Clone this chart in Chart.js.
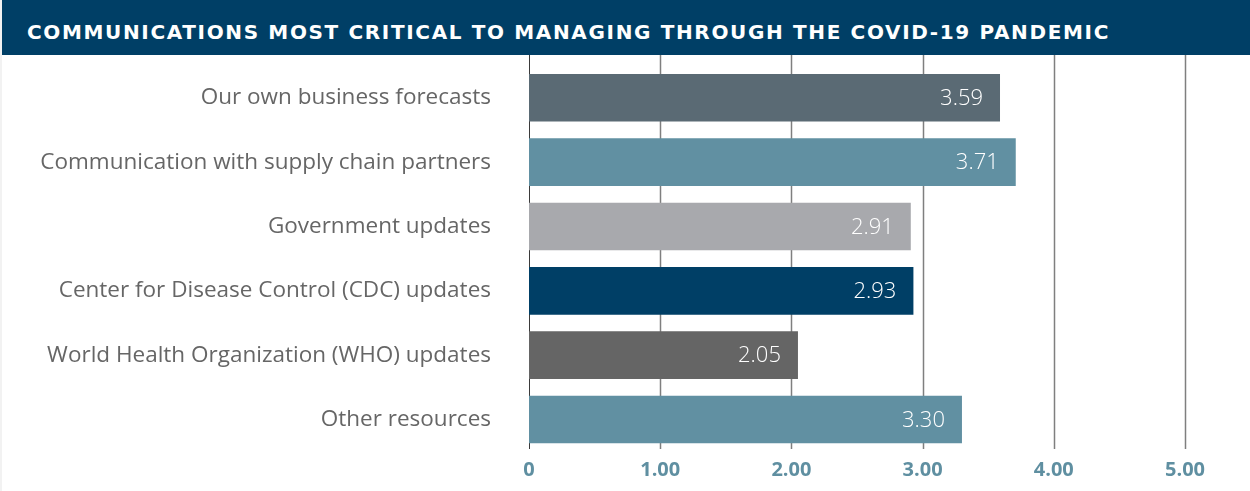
<!DOCTYPE html>
<html>
<head>
<meta charset="utf-8">
<script src="https://cdn.jsdelivr.net/npm/chart.js@4/dist/chart.umd.min.js"></script>
<style>
  html, body { margin: 0; padding: 0; background: #fff; }
  #wrap { position: relative; width: 1250px; height: 491px; overflow: hidden; }
  #edge { position: absolute; left: 0; top: 0; width: 2px; height: 491px; background: #f2f2f2; }
  #banner { position: absolute; left: 2px; top: 0; width: 1248px; height: 55px; background: #003f66; }
  #title { position: absolute; left: 27px; top: 18px; color: #fff; font-family: "DejaVu Sans", sans-serif; font-weight: 700; font-size: 20px; white-space: nowrap; line-height: 28px; }
  canvas { position: absolute; left: 0; top: 0; }
</style>
</head>
<body>
<div id="wrap">
  <canvas id="c" width="1250" height="491"></canvas>
  <div id="edge"></div>
  <div id="banner"></div>
  <div id="title">COMMUNICATIONS MOST CRITICAL TO MANAGING THROUGH THE COVID-19 PANDEMIC</div>
</div>
<script>
const categories = [
  "Our own business forecasts",
  "Communication with supply chain partners",
  "Government updates",
  "Center for Disease Control (CDC) updates",
  "World Health Organization (WHO) updates",
  "Other resources"
];
const values = [3.59, 3.71, 2.91, 2.93, 2.05, 3.30];
const barColors = ["#5a6a74", "#6190a2", "#a8a9ad", "#003f66", "#656565", "#6190a2"];
const tickValues = [0, 1, 2, 3, 4, 5];
const tickLabels = ["0", "1.00", "2.00", "3.00", "4.00", "5.00"];

// fit title width
(function(){
  const t = document.getElementById('title');
  const target = 1083;
  const w = t.getBoundingClientRect().width;
  const n = t.textContent.length;
  t.style.letterSpacing = ((target - w) / n) + 'px';
})();

const gridPlugin = {
  id: 'gridLines',
  beforeDatasetsDraw(chart) {
    const ctx = chart.ctx;
    const xs = chart.scales.x;
    ctx.save();
    tickValues.forEach(v => {
      const x = Math.round(xs.getPixelForValue(v)) + 0.5;
      ctx.beginPath();
      ctx.strokeStyle = v === 0 ? '#3a3a3a' : '#7f7f7f';
      ctx.lineWidth = v === 0 ? 1 : 1.5;
      ctx.moveTo(x, 55);
      ctx.lineTo(x, 449);
      ctx.stroke();
    });
    ctx.restore();
  }
};

const valuePlugin = {
  id: 'valueLabels',
  afterDatasetsDraw(chart) {
    const ctx = chart.ctx;
    const meta = chart.getDatasetMeta(0);
    ctx.save();
    ctx.fillStyle = '#ffffff';
    ctx.font = '300 22px "Open Sans", sans-serif';
    ctx.textAlign = 'right';
    ctx.textBaseline = 'middle';
    meta.data.forEach((el, i) => {
      ctx.fillText(values[i].toFixed(2), el.x - 17, el.y + 1);
    });
    ctx.restore();
  }
};

new Chart(document.getElementById('c'), {
  type: 'bar',
  data: {
    labels: categories,
    datasets: [{
      data: values,
      backgroundColor: barColors,
      borderWidth: 0,
      barPercentage: 0.74,
      categoryPercentage: 1.0
    }]
  },
  options: {
    indexAxis: 'y',
    responsive: false,
    animation: false,
    devicePixelRatio: 1,
    layout: { padding: { top: 65.6, right: 65, left: 0, bottom: 0 } },
    plugins: { legend: { display: false }, tooltip: { enabled: false }, title: { display: false } },
    scales: {
      x: {
        type: 'linear',
        min: 0,
        max: 5,
        afterFit(s) { s.height = 39.3; s.paddingLeft = 0; s.paddingRight = 0; },
        afterBuildTicks(s) { s.ticks = tickValues.map(v => ({ value: v })); },
        grid: { display: false, drawTicks: false },
        border: { display: false },
        ticks: {
          padding: 7,
          color: '#5f8fa1',
          font: { family: '"Open Sans", sans-serif', weight: '700', size: 20 },
          callback: (v) => tickLabels[tickValues.indexOf(v)]
        }
      },
      y: {
        afterFit(s) { s.width = 529; s.paddingTop = 0; s.paddingBottom = 0; },
        grid: { display: false, drawTicks: false },
        border: { display: false },
        ticks: {
          padding: 38,
          color: '#666666',
          font: { family: '"Open Sans", sans-serif', weight: '400', size: 22.5 }
        }
      }
    }
  },
  plugins: [gridPlugin, valuePlugin]
});
</script>
</body>
</html>
